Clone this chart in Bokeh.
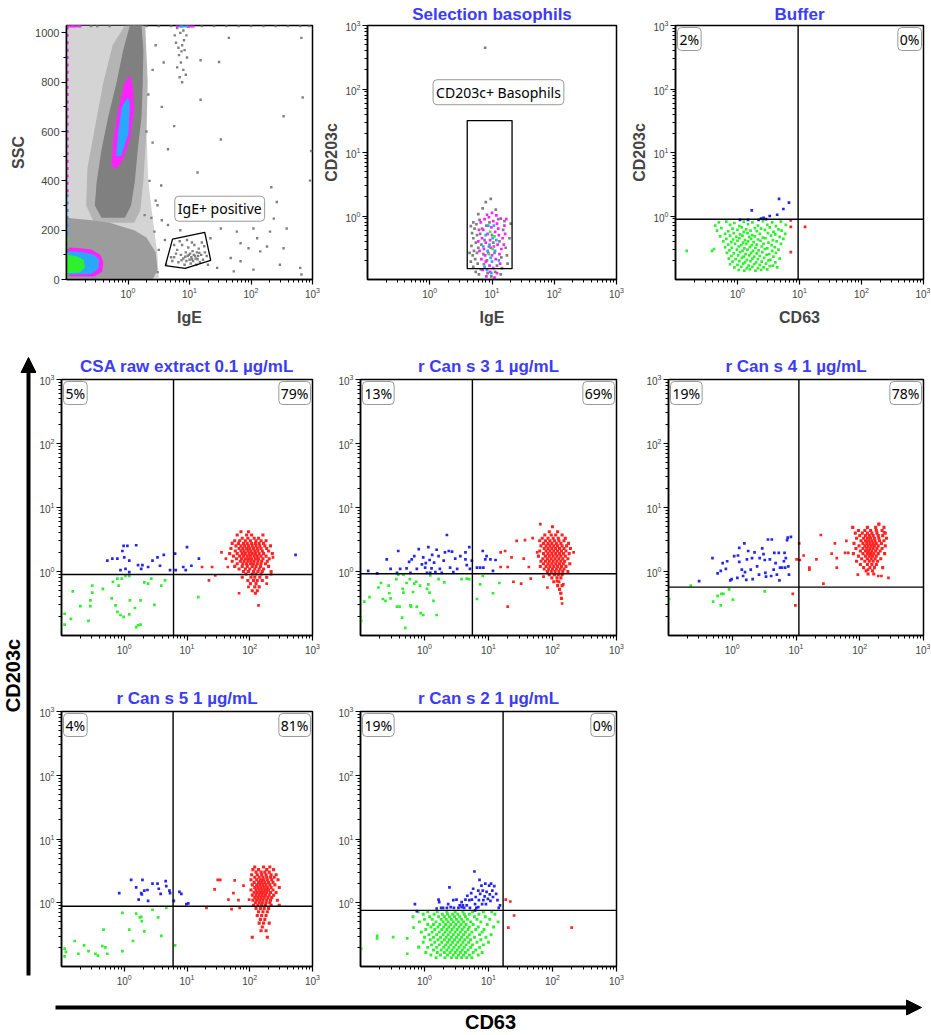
import math
from bokeh.plotting import figure
from bokeh.models import Range1d, Span, Label, Arrow, NormalHead, FixedTicker
from bokeh.layouts import row, column
from bokeh.core.properties import value
from bokeh.embed import file_html
from bokeh.resources import INLINE

# ---------------------------------------------------------------- colours
TITLE_C = "#3c3cf5"
GREEN = "#2ef02e"
BLUE = "#2626ee"
RED = "#ff2424"
MAGENTA = "#ff22ff"
CYAN = "#28a8ff"
GREY = "#808080"

# ---------------------------------------------------------------- texts
titles = ["Selection basophils", "Buffer", "CSA raw extract 0.1 \u00b5g/mL", "r Can s 3 1 \u00b5g/mL",
          "r Can s 4 1 \u00b5g/mL", "r Can s 5 1 \u00b5g/mL", "r Can s 2 1 \u00b5g/mL"]
quad_pct_left = {"buf": "2%", "csa": "5%", "s3": "13%", "s4": "19%", "s5": "4%", "s2": "19%"}
quad_pct_right = {"buf": "0%", "csa": "79%", "s3": "69%", "s4": "78%", "s5": "81%", "s2": "0%"}
# quadrant thresholds (CD63, CD203c)
quad_x = {"buf": 9.5, "csa": 6.1, "s3": 5.6, "s4": 11.1, "s5": 6.0, "s2": 16.9}
quad_y = {"buf": 0.89, "csa": 0.90, "s3": 0.92, "s4": 0.57, "s5": 0.88, "s2": 0.76}

# ---------------------------------------------------------------- panel 1 : SSC vs IgE
# values: log10(IgE), SSC
ssc_haze_lx = [-1.0, 0.50, 0.48, 0.40, 0.33, 0.30, 0.28, 0.25, -1.0]
ssc_haze_y = [0, 0, 100, 250, 400, 600, 800, 1030, 1030]
ssc_halo_lx = [-0.05, 0.28, 0.32, 0.30, 0.25, 0.20, 0.10, -0.55, -0.68, -0.66, -0.55, -0.40, -0.25]
ssc_halo_y = [1030, 1030, 800, 600, 400, 280, 230, 230, 300, 450, 600, 800, 950]
ssc_low_lx = [-1.0, 0.40, 0.48, 0.45, 0.30, 0.10, -0.30, -0.60, -1.0]
ssc_low_y = [0, 0, 40, 110, 170, 200, 230, 240, 250]
ssc_main_lx = [0.03, 0.22, 0.25, 0.24, 0.22, 0.16, 0.11, 0.05, -0.05, -0.43, -0.54, -0.51, -0.43, -0.32, -0.19, -0.08]
ssc_main_y = [1030, 1030, 930, 795, 660, 530, 395, 300, 250, 250, 300, 395, 528, 662, 795, 929]
ssc_core_mag_lx = [0.03, 0.08, 0.10, 0.03, -0.08, -0.19, -0.27, -0.24, -0.16, -0.06]
ssc_core_mag_y = [829, 782, 688, 568, 488, 448, 461, 568, 688, 795]
ssc_core_cyan_lx = [0.03, 0.01, -0.11, -0.19, -0.16, -0.10, 0.00]
ssc_core_cyan_y = [715, 595, 501, 501, 595, 702, 740]
ssc_blob_mag_lx = [-1.0, -0.55, -0.42, -0.40, -0.45, -0.60, -0.80, -1.0]
ssc_blob_mag_y = [12, 12, 30, 70, 100, 122, 128, 130]
ssc_blob_cyan_lx = [-1.0, -0.60, -0.48, -0.47, -0.55, -0.75, -1.0]
ssc_blob_cyan_y = [20, 22, 45, 80, 100, 112, 115]
ssc_blob_green_lx = [-1.0, -0.78, -0.70, -0.72, -0.85, -1.0]
ssc_blob_green_y = [25, 28, 50, 80, 95, 100]
ssc_edge_mag_y = [1020, 990, 960, 930, 900, 870, 840, 810, 780, 750, 720, 690, 660, 630, 600, 570, 540,
                  510, 480, 450, 420, 390, 360]
ssc_edge_cyan_y = [340, 310, 280, 250, 220, 190]
ssc_edge_green_y = [160, 130, 100, 70, 40, 15]
ssc_top_grey_lx = [-0.9, -0.8, -0.6, -0.5, -0.3, 0.1, 0.3, 0.5, 0.7, 1.2, 1.4, 1.6, 1.8, 2.0, 2.2, 2.4, 2.6, 2.8, 2.95]
ssc_top_mag_lx = [-0.98, -0.93, -0.88, -0.84, -0.78, 0.80, 0.87, 0.98, 1.02, 1.06]
ssc_top_cyan_lx = [0.85, 0.90, 0.95]
ssc_scatter = [(1.64, 980), (2.82, 980), (1.48, 882), (2.84, 738), (2.53, 662), (2.98, 521), (2.96, 401),
               (2.33, 374), (2.42, 314), (2.37, 247), (2.31, 194), (2.04, 207), (2.10, 167), (1.77, 194),
               (1.83, 147), (1.96, 127), (2.15, 114), (2.26, 134), (2.53, 127), (2.58, 207), (2.47, 60),
               (1.83, 74), (1.67, 87), (1.45, 47), (1.72, 33), (2.04, 40), (2.80, 47), (2.82, 20), (1.51, 207),
               (1.34, 167), (0.48, 301), (0.54, 381), (0.65, 528), (0.75, 622), (1.18, 729), (0.27, 261),
               (0.43, 194), (0.65, 221), (0.40, 555), (1.13, 434), (1.51, 568), (1.18, 889), (0.35, 400),
               (0.45, 320), (0.38, 250), (0.55, 240), (0.60, 160), (0.50, 120), (0.70, 90), (0.62, 60),
               (0.48, 30), (0.75, 140), (0.85, 200), (0.30, 600), (0.33, 750), (0.40, 850), (0.55, 700),
               (0.45, 950), (0.58, 880),
               (0.80, 1020), (0.85, 1000), (0.90, 1010), (0.95, 990), (0.78, 960), (0.88, 950), (0.92, 930),
               (0.83, 910), (0.96, 900), (0.86, 880), (0.80, 860), (0.90, 850), (0.94, 830), (0.84, 820),
               (0.88, 800), (0.98, 1025), (0.76, 990), (0.91, 970), (0.82, 940), (0.87, 925)]
ssc_gate_pts = [(0.75, 90), (0.80, 120), (0.82, 70), (0.86, 100), (0.88, 140), (0.90, 85), (0.92, 60), (0.94, 110),
                (0.95, 75), (0.97, 95), (0.98, 130), (1.00, 80), (1.01, 105), (1.02, 65), (1.03, 90), (1.05, 115),
                (1.06, 75), (1.07, 100), (1.08, 140), (1.10, 85), (1.11, 60), (1.12, 110), (1.14, 95),
                (1.15, 125), (1.17, 70), (1.19, 100), (1.20, 150), (1.22, 80), (1.25, 110), (1.28, 95),
                (0.84, 155), (0.96, 160), (1.04, 150), (0.99, 100), (1.04, 82), (0.93, 92), (1.09, 96),
                (0.87, 78), (1.13, 82), (1.16, 108), (0.78, 105), (0.72, 75), (1.30, 60), (1.24, 135)]
ige_gate_x = [5.3, 17.7, 22.1, 8.5, 4.05]
ige_gate_y = [164, 191, 78, 45, 56]

# ---------------------------------------------------------------- panel 2 : selection basophils (log10 values)
sel_grey = [(0.89, 2.65), (0.90, 0.22), (0.98, 0.27), (1.06, 0.10), (0.78, 0.03), (0.85, 0.12), (0.70, -0.10),
            (0.66, -0.16), (0.72, -0.20), (0.68, -0.27), (0.75, -0.13), (0.80, -0.06), (0.70, -0.35),
            (0.74, -0.42), (0.67, -0.47), (0.71, -0.55), (0.76, -0.30), (0.78, -0.50), (0.69, -0.62),
            (0.73, -0.68), (0.77, -0.75), (0.70, -0.80), (0.74, -0.88), (0.79, -0.92), (0.82, -0.84),
            (0.84, -0.20), (0.88, -0.38), (0.86, -0.60), (0.92, -0.70), (0.95, -0.48), (1.00, -0.30),
            (1.04, -0.58), (1.08, -0.78), (1.12, -0.40), (1.15, -0.65), (1.18, -0.22), (1.22, -0.50),
            (1.25, -0.75), (1.28, -0.35), (1.30, -0.12), (1.20, -0.08), (1.10, -0.05), (0.96, -0.10),
            (0.93, -0.90), (0.99, -0.95), (1.05, -0.88), (1.14, -0.92), (0.64, -0.58), (0.66, -0.72),
            (0.81, -0.28), (0.87, -0.76), (0.91, -0.15), (1.02, -0.42), (1.16, -0.82), (1.24, -0.62),
            (0.83, -0.45), (0.76, -0.58)]
sel_magenta = [(0.82, -0.10), (0.88, -0.05), (0.95, -0.02), (1.02, -0.08), (1.08, -0.12), (1.14, -0.04),
               (1.20, -0.15), (0.86, -0.22), (0.93, -0.28), (0.99, -0.18), (1.05, -0.25), (1.11, -0.30),
               (1.17, -0.35), (0.84, -0.35), (0.90, -0.42), (0.97, -0.38), (1.03, -0.48), (1.09, -0.45),
               (1.15, -0.52), (0.80, -0.55), (0.87, -0.52), (0.94, -0.58), (1.00, -0.62), (1.06, -0.68),
               (1.12, -0.60), (0.83, -0.68), (0.90, -0.72), (0.96, -0.78), (1.02, -0.82), (1.08, -0.90),
               (1.13, -0.75), (0.85, -0.85), (0.91, -0.95), (0.97, -0.88), (1.04, -0.97), (0.78, -0.40),
               (0.79, -0.22), (1.19, -0.45), (1.21, -0.28), (1.23, -0.05), (0.92, 0.02), (1.00, 0.05),
               (1.07, 0.01), (0.98, -0.50), (0.89, -0.62), (1.10, -0.20)]
sel_cyan = [(0.90, -0.30), (0.96, -0.45), (1.01, -0.35), (0.93, -0.55), (1.05, -0.55), (0.98, -0.66),
            (0.88, -0.80), (1.00, -0.72), (0.94, -0.15), (1.07, -0.38), (0.86, -0.48), (1.03, -0.15),
            (0.99, -0.90), (0.92, -0.85), (1.11, -0.70)]
sel_green = [(0.97, -0.25), (1.04, -0.32), (0.95, -0.60), (1.01, -0.52)]
baso_gate_x = [4.0, 21.0, 21.0, 4.0]
baso_gate_y = [0.148, 0.148, 31.8, 31.8]

# ---------------------------------------------------------------- panel 3 : buffer (log10 CD63, log10 CD203c)
buf_green = [(-0.82, -0.55), (-0.41, -0.55), (-0.38, -0.52),
    (-0.30, -0.10), (-0.18, -0.09), (-0.05, -0.11), (0.10, -0.09), (0.24, -0.10), (0.41, -0.08), (0.56, -0.10), (0.70, -0.09),
    (-0.36, -0.15), (-0.12, -0.14), (0.03, -0.16), (0.17, -0.13), (0.33, -0.15), (0.48, -0.14), (0.62, -0.16), (0.78, -0.14),
    (-0.26, -0.19), (-0.08, -0.20), (0.07, -0.18), (0.14, -0.21), (0.28, -0.19), (0.38, -0.20), (0.52, -0.18), (0.66, -0.21),
    (-0.33, -0.23), (-0.15, -0.24), (0.00, -0.22), (0.10, -0.25), (0.21, -0.23), (0.31, -0.24), (0.44, -0.22), (0.58, -0.25), (0.71, -0.23),
    (-0.20, -0.28), (-0.06, -0.27), (0.04, -0.29), (0.16, -0.27), (0.24, -0.30), (0.36, -0.28), (0.49, -0.27), (0.61, -0.29), (0.77, -0.28),
    (-0.28, -0.32), (-0.12, -0.31), (-0.02, -0.33), (0.08, -0.31), (0.19, -0.33), (0.28, -0.32), (0.41, -0.34), (0.54, -0.31), (0.68, -0.33),
    (-0.18, -0.36), (-0.07, -0.37), (0.03, -0.35), (0.12, -0.38), (0.22, -0.36), (0.33, -0.37), (0.45, -0.35), (0.57, -0.38), (0.74, -0.36),
    (-0.23, -0.40), (-0.10, -0.41), (0.00, -0.39), (0.09, -0.42), (0.17, -0.40), (0.26, -0.41), (0.37, -0.39), (0.50, -0.42), (0.63, -0.40),
    (-0.15, -0.45), (-0.04, -0.44), (0.06, -0.46), (0.14, -0.44), (0.23, -0.46), (0.31, -0.45), (0.42, -0.44), (0.55, -0.46), (0.70, -0.44),
    (-0.20, -0.49), (-0.09, -0.50), (0.02, -0.48), (0.11, -0.51), (0.20, -0.49), (0.29, -0.50), (0.39, -0.48), (0.48, -0.51), (0.60, -0.49),
    (-0.13, -0.54), (-0.01, -0.53), (0.08, -0.55), (0.16, -0.53), (0.25, -0.55), (0.34, -0.54), (0.44, -0.52), (0.56, -0.55), (0.66, -0.53),
    (-0.17, -0.58), (-0.06, -0.59), (0.04, -0.57), (0.13, -0.60), (0.22, -0.58), (0.31, -0.59), (0.40, -0.57), (0.51, -0.60), (0.62, -0.58),
    (-0.10, -0.63), (0.01, -0.62), (0.10, -0.64), (0.19, -0.62), (0.27, -0.64), (0.36, -0.63), (0.47, -0.61), (0.58, -0.64),
    (-0.14, -0.67), (-0.03, -0.68), (0.07, -0.66), (0.15, -0.69), (0.24, -0.67), (0.33, -0.68), (0.43, -0.66), (0.53, -0.69), (0.68, -0.67),
    (-0.08, -0.72), (0.03, -0.71), (0.12, -0.73), (0.21, -0.71), (0.30, -0.73), (0.39, -0.72), (0.50, -0.70), (0.61, -0.73),
    (-0.12, -0.76), (0.00, -0.77), (0.09, -0.75), (0.18, -0.78), (0.27, -0.76), (0.36, -0.77), (0.46, -0.75), (0.57, -0.78),
    (-0.05, -0.81), (0.06, -0.80), (0.15, -0.82), (0.24, -0.80), (0.33, -0.82), (0.42, -0.81), (0.52, -0.79), (0.64, -0.81),
    (0.02, -0.85), (0.11, -0.86), (0.20, -0.84), (0.29, -0.86), (0.38, -0.85), (0.48, -0.84)]
buf_blue = [(0.23, 0.09), (0.67, 0.27), (0.83, 0.21), (0.74, 0.11), (0.64, 0.02), (0.52, 0.00), (0.42, -0.03),
            (0.34, -0.06), (0.38, -0.04), (0.04, -0.06), (0.17, -0.06), (0.46, -0.05)]
buf_red = [(0.86, -0.07), (0.86, -0.17), (1.09, -0.17), (0.86, -0.57)]

# ---------------------------------------------------------------- panel 4 : CSA raw extract
csa_blue = [(0.05, 0.40), (-0.03, 0.32), (-0.27, 0.17), (-0.11, 0.20), (0.00, 0.22), (0.08, 0.17), (-0.06, 0.02),
            (0.02, 0.04), (0.08, -0.01), (0.22, 0.10), (0.29, 0.10), (0.27, 0.04), (0.38, 0.07), (0.45, 0.17),
            (0.53, 0.22), (0.57, 0.09), (0.63, 0.26), (0.19, 0.41), (0.73, 0.02), (0.81, 0.28), (0.82, 0.02),
            (0.94, 0.07), (0.98, 0.02), (1.00, 0.38), (1.07, 0.09), (1.19, 0.20), (2.73, 0.26), (-0.01, 0.40),
            (-0.19, 0.20)]
csa_green = [(-0.95, -0.66), (-0.95, -0.83), (-0.85, -0.74), (-0.82, -0.31), (-0.70, -0.54), (-0.57, -0.77),
             (-0.54, -0.54), (-0.54, -0.45), (-0.51, -0.33), (-0.51, -0.22), (-0.34, -0.27), (-0.18, -0.16),
             (-0.11, -0.11), (-0.09, -0.22), (-0.20, -0.42), (-0.14, -0.53), (-0.11, -0.63), (-0.06, -0.68),
             (-0.01, -0.71), (0.08, -0.67), (0.09, -0.45), (0.17, -0.57), (0.22, -0.84), (0.19, -0.87),
             (0.26, -0.83), (0.26, -0.45), (0.32, -0.17), (0.38, -0.19), (0.43, -0.11), (0.59, -0.22),
             (0.65, -0.14), (0.48, -0.52), (0.02, -0.07), (0.08, -0.07), (-0.04, -0.11), (1.18, -0.40)]
csa_red_sparse = [(1.24, 0.07), (1.35, -0.14), (1.40, 0.07), (1.45, -0.06), (1.55, 0.30), (1.65, 0.07),
                  (1.62, 0.20), (1.83, -0.34), (2.14, -0.53), (2.37, 0.22), (2.34, -0.04), (2.27, -0.19),
                  (1.98, -0.24)]
csa_red_rows = [(0.62, [1.86, 1.98]), (0.57, [1.80, 1.95, 2.03, 2.21]), (0.52, [1.88, 1.97, 2.07, 2.14]),
                (0.48, [1.76, 1.84, 1.93, 2.01, 2.10, 2.18, 2.26]),
                (0.44, [1.72, 1.82, 1.90, 1.96, 2.03, 2.09, 2.15, 2.22]),
                (0.40, [1.78, 1.86, 1.92, 1.98, 2.04, 2.10, 2.16, 2.24, 2.33]),
                (0.36, [1.70, 1.83, 1.89, 1.95, 2.00, 2.06, 2.12, 2.18, 2.27]),
                (0.32, [1.77, 1.86, 1.91, 1.97, 2.02, 2.08, 2.13, 2.20, 2.30]),
                (0.28, [1.68, 1.80, 1.88, 1.93, 1.99, 2.04, 2.09, 2.15, 2.22, 2.36]),
                (0.24, [1.74, 1.84, 1.90, 1.96, 2.01, 2.07, 2.12, 2.18, 2.26]),
                (0.20, [1.79, 1.87, 1.93, 1.98, 2.03, 2.09, 2.14, 2.21, 2.31]),
                (0.16, [1.72, 1.85, 1.91, 1.97, 2.02, 2.07, 2.13, 2.19, 2.28]),
                (0.12, [1.80, 1.89, 1.95, 2.01, 2.06, 2.12, 2.18, 2.25]),
                (0.08, [1.76, 1.88, 1.96, 2.04, 2.10, 2.17, 2.30]),
                (0.04, [1.83, 1.93, 2.00, 2.08, 2.15, 2.22]), (0.00, [1.90, 1.98, 2.06, 2.13, 2.20, 2.34]),
                (-0.04, [1.94, 2.04, 2.10, 2.18]), (-0.09, [1.88, 2.02, 2.08, 2.16, 2.27]),
                (-0.14, [1.97, 2.06, 2.12, 2.20]), (-0.19, [2.01, 2.10]), (-0.24, [2.08, 2.15]),
                (-0.30, [2.04, 2.12]), (-0.34, [2.09])]

# ---------------------------------------------------------------- panel 5 : r Can s 3
s3_blue = [(-0.88, 0.01), (-0.74, -0.03), (-0.59, 0.19), (-0.53, 0.04), (-0.41, 0.32), (-0.38, 0.04), (-0.28, 0.05),
           (-0.24, 0.15), (-0.20, 0.19), (-0.22, -0.02), (-0.09, 0.35), (-0.12, 0.04), (-0.04, 0.11), (-0.02, 0.22),
           (0.01, 0.06), (0.04, -0.02), (0.06, 0.38), (0.08, 0.18), (0.11, 0.05), (0.15, 0.14), (0.19, 0.34),
           (0.22, 0.24), (0.24, 0.04), (0.30, 0.17), (0.35, 0.57), (0.38, 0.32), (0.40, 0.06), (0.43, 0.31),
           (0.48, 0.20), (0.51, 0.04), (0.64, 0.19), (0.66, 0.10), (0.70, 0.38), (0.74, 0.17), (0.64, 0.30),
           (0.87, 0.06), (0.91, 0.32), (0.95, 0.19), (0.97, 0.24), (1.03, 0.19), (1.07, 0.01), (1.11, 0.18),
           (0.27, -0.02), (0.32, 0.30), (0.56, 0.24), (-0.16, 0.24), (-0.43, -0.02), (0.09, -0.02), (0.17, -0.01),
           (0.45, -0.01), (0.71, 0.04), (0.82, 0.06), (0.92, 0.06), (0.12, 0.26), (0.02, 0.13)]
s3_green = [(-1.0, -0.72), (-0.99, -0.77), (-0.94, -0.47), (-0.86, -0.40), (-0.72, -0.25), (-0.65, -0.43),
            (-0.61, -0.46), (-0.56, -0.22), (-0.55, -0.34), (-0.53, -0.42), (-0.44, -0.12), (-0.43, -0.55),
            (-0.39, -0.55), (-0.35, -0.72), (-0.34, -0.27), (-0.33, -0.33), (-0.30, -0.88), (-0.23, -0.12),
            (-0.22, -0.53), (-0.21, -0.55), (-0.18, -0.32), (-0.16, -0.19), (-0.13, -0.16), (-0.12, -0.55),
            (-0.06, -0.65), (-0.02, -0.68), (0.04, -0.27), (0.06, -0.20), (0.08, -0.33), (0.09, -0.06),
            (0.14, -0.46), (0.19, -0.68), (0.22, -0.12), (0.31, -0.17), (0.58, -0.12), (0.66, -0.11),
            (0.70, -0.12), (0.82, -0.43), (0.87, -0.20), (0.91, -0.07), (1.07, -0.34), (1.17, -0.18),
            (-0.68, -0.18), (-0.28, -0.18), (-0.07, -0.22), (-0.41, -0.05), (-0.33, -0.05), (-1.0, -0.61)]
s3_red_sparse = [(1.19, 0.30), (1.19, 0.07), (1.26, 0.32), (1.30, 0.07), (1.36, 0.22), (1.44, 0.48),
                 (1.30, -0.55), (1.39, -0.16), (1.51, -0.19), (1.55, 0.20), (1.57, 0.49), (1.63, 0.07),
                 (1.66, -0.11), (1.69, 0.52), (1.76, 0.30), (1.81, 0.74), (1.92, -0.25), (2.13, -0.34),
                 (2.15, -0.50), (2.17, -0.20), (2.33, 0.30), (1.86, -0.08), (2.07, -0.15)]
s3_red_rows = [(0.70, [2.00]), (0.62, [1.95, 2.08]), (0.57, [1.88, 1.98, 2.05, 2.15]),
               (0.52, [1.84, 1.93, 2.01, 2.09, 2.20]), (0.48, [1.80, 1.89, 1.96, 2.03, 2.10, 2.18]),
               (0.44, [1.86, 1.93, 1.99, 2.06, 2.13, 2.25]), (0.40, [1.82, 1.90, 1.96, 2.02, 2.08, 2.15, 2.22]),
               (0.36, [1.87, 1.93, 1.99, 2.05, 2.11, 2.18, 2.28]), (0.32, [1.80, 1.90, 1.96, 2.02, 2.08, 2.14, 2.21]),
               (0.28, [1.86, 1.93, 1.99, 2.05, 2.11, 2.17, 2.26]), (0.24, [1.78, 1.89, 1.95, 2.01, 2.07, 2.13, 2.20]),
               (0.20, [1.85, 1.92, 1.98, 2.04, 2.10, 2.16, 2.24]), (0.16, [1.82, 1.89, 1.95, 2.01, 2.07, 2.13, 2.19]),
               (0.12, [1.86, 1.93, 1.99, 2.05, 2.11, 2.17, 2.27]), (0.08, [1.81, 1.90, 1.96, 2.02, 2.08, 2.14, 2.21]),
               (0.04, [1.87, 1.94, 2.00, 2.06, 2.12, 2.18]), (0.00, [1.92, 1.98, 2.04, 2.10, 2.16, 2.24]),
               (-0.05, [1.95, 2.03, 2.09, 2.15]), (-0.10, [1.99, 2.07, 2.13]), (-0.16, [2.02, 2.10]),
               (-0.22, [2.08, 2.15]), (-0.28, [2.11]), (-0.34, [2.13]), (-0.42, [2.14])]

# ---------------------------------------------------------------- panel 6 : r Can s 4
s4_blue = [(-0.52, -0.15), (-0.31, 0.21), (-0.23, -0.03), (-0.18, 0.01), (-0.15, 0.13), (-0.10, 0.04), (-0.08, 0.16),
           (-0.03, -0.14), (-0.01, -0.12), (0.09, 0.25), (0.11, 0.15), (0.15, 0.03), (0.17, -0.07), (0.19, 0.44),
           (0.20, -0.01), (0.22, -0.13), (0.25, 0.32), (0.29, 0.03), (0.31, 0.21), (0.32, -0.12), (0.35, 0.30),
           (0.39, 0.08), (0.43, 0.21), (0.47, 0.36), (0.49, 0.27), (0.52, -0.02), (0.53, -0.08), (0.56, 0.50),
           (0.59, 0.19), (0.62, 0.50), (0.65, 0.03), (0.66, 0.29), (0.73, 0.29), (0.74, -0.14), (0.75, 0.06),
           (0.78, 0.06), (0.81, 0.16), (0.82, 0.29), (0.83, 0.06), (0.84, 0.21), (0.86, 0.49), (0.87, 0.53),
           (0.88, 0.08), (0.89, -0.05), (0.92, 0.54), (0.11, 0.37), (0.03, 0.24), (0.42, -0.05), (0.61, -0.07),
           (0.68, 0.13), (0.23, 0.19), (0.51, 0.18), (0.70, -0.05), (0.08, -0.10)]
s4_green = [(-0.99, -0.43), (-0.65, -0.22), (-0.30, -0.47), (-0.23, -0.38), (-0.17, -0.35), (-0.14, -0.35),
            (-0.18, -0.53), (-0.05, -0.28), (0.01, -0.44), (0.51, -0.31)]
s4_red_sparse = [(0.95, -0.35), (0.99, -0.53), (1.01, 0.19), (1.05, 0.44), (1.06, 0.18), (1.12, 0.25),
                 (1.21, 0.06), (1.21, 0.03), (1.32, 0.19), (1.39, 0.57), (1.43, -0.19), (1.56, 0.28),
                 (1.61, 0.44), (1.64, 0.21), (1.64, 0.06), (1.77, 0.29), (1.79, 0.48), (1.82, 0.29),
                 (1.97, -0.05), (2.13, 0.03), (2.29, -0.07), (2.34, -0.07), (2.45, -0.10), (2.38, 0.61),
                 (2.30, 0.74), (1.89, 0.69)]
s4_red_rows = [(0.74, [2.30]), (0.69, [1.89, 2.12, 2.25, 2.38]), (0.64, [1.98, 2.08, 2.17, 2.26, 2.35]),
               (0.60, [1.93, 2.04, 2.12, 2.19, 2.27, 2.40]), (0.56, [2.00, 2.09, 2.15, 2.21, 2.29, 2.36]),
               (0.52, [1.95, 2.06, 2.12, 2.17, 2.23, 2.30, 2.42]), (0.48, [2.02, 2.09, 2.14, 2.19, 2.24, 2.31, 2.38]),
               (0.44, [1.91, 2.05, 2.11, 2.16, 2.21, 2.26, 2.34]), (0.40, [1.99, 2.08, 2.13, 2.18, 2.23, 2.29, 2.40]),
               (0.36, [1.94, 2.05, 2.11, 2.16, 2.21, 2.27, 2.35]), (0.32, [2.01, 2.09, 2.14, 2.19, 2.25, 2.32]),
               (0.28, [1.90, 2.05, 2.12, 2.17, 2.22, 2.29, 2.39]), (0.24, [1.98, 2.09, 2.15, 2.20, 2.26]),
               (0.20, [2.03, 2.12, 2.18, 2.24, 2.33]), (0.16, [1.95, 2.08, 2.15, 2.21, 2.28]),
               (0.11, [2.01, 2.12, 2.19, 2.26]), (0.06, [2.06, 2.16, 2.23, 2.36]), (0.01, [2.10, 2.20]),
               (-0.04, [2.13, 2.22])]

# ---------------------------------------------------------------- panel 7 : r Can s 5
s5_blue = [(0.11, 0.36), (0.29, 0.36), (-0.08, 0.15), (0.19, 0.24), (0.27, 0.15), (0.28, 0.13), (0.23, 0.05),
           (0.38, 0.03), (0.37, 0.20), (0.45, 0.30), (0.53, 0.30), (0.58, 0.14), (0.66, 0.34), (0.67, 0.26),
           (0.72, 0.19), (0.73, 0.15), (0.88, 0.17), (0.91, 0.14), (0.79, 0.03), (0.99, -0.02), (1.02, -0.01),
           (0.55, 0.22), (0.32, 0.19)]
s5_green = [(-0.95, -0.72), (-0.95, -0.84), (-0.93, -0.77), (-0.79, -0.60), (-0.73, -0.80), (-0.64, -0.67),
            (-0.57, -0.76), (-0.46, -0.80), (-0.42, -0.83), (-0.35, -0.68), (-0.33, -0.42), (-0.30, -0.70),
            (-0.27, -0.80), (-0.03, -0.76), (-0.03, -0.16), (0.08, -0.42), (0.14, -0.60), (0.19, -0.17),
            (0.25, -0.23), (0.27, -0.22), (0.28, -0.29), (0.32, -0.45), (0.45, -0.11), (0.54, -0.23),
            (0.59, -0.52), (0.67, -0.08), (0.81, -0.67)]
s5_red_sparse = [(1.31, -0.08), (1.44, 0.21), (1.49, 0.36), (1.53, 0.36), (1.66, 0.05), (1.71, -0.10),
                 (1.74, 0.15), (1.82, 0.04), (1.84, -0.08), (1.99, 0.05), (1.76, 0.35), (1.90, 0.27)]
s5_red_rows = [(0.56, [2.08, 2.22, 2.32]), (0.52, [2.05, 2.14, 2.27, 2.38]), (0.48, [2.10, 2.18, 2.24, 2.31]),
               (0.44, [2.03, 2.12, 2.19, 2.26, 2.34, 2.42]), (0.40, [2.08, 2.15, 2.21, 2.27, 2.33, 2.39]),
               (0.36, [2.02, 2.11, 2.17, 2.22, 2.28, 2.35, 2.45]), (0.32, [2.07, 2.14, 2.19, 2.24, 2.30, 2.37]),
               (0.28, [2.04, 2.11, 2.16, 2.21, 2.26, 2.32, 2.40]), (0.24, [2.08, 2.13, 2.18, 2.23, 2.28, 2.34, 2.47]),
               (0.20, [2.02, 2.10, 2.15, 2.20, 2.25, 2.30, 2.37]), (0.16, [2.07, 2.12, 2.17, 2.22, 2.27, 2.33, 2.42]),
               (0.12, [2.04, 2.10, 2.15, 2.20, 2.25, 2.31, 2.38]), (0.08, [2.08, 2.13, 2.18, 2.23, 2.29, 2.35]),
               (0.04, [2.05, 2.11, 2.16, 2.21, 2.27, 2.33, 2.44]), (0.00, [2.09, 2.15, 2.20, 2.26, 2.32]),
               (-0.04, [2.06, 2.13, 2.19, 2.25, 2.34, 2.47]), (-0.09, [2.10, 2.17, 2.23, 2.30]),
               (-0.14, [2.14, 2.21, 2.28]), (-0.20, [2.12, 2.19, 2.26]), (-0.26, [2.17, 2.24]),
               (-0.32, [2.15, 2.22, 2.31]), (-0.38, [2.20]), (-0.44, [2.18, 2.26]), (-0.54, [2.04, 2.28])]

# ---------------------------------------------------------------- panel 8 : r Can s 2
s2_blue = [(-0.15, -0.02), (-0.12, -0.13), (0.22, 0.05), (0.23, 0.01), (0.26, -0.08), (0.29, -0.08), (0.35, -0.08),
           (0.39, 0.24), (0.41, -0.07), (0.46, -0.08), (0.50, 0.05), (0.53, -0.08), (0.55, -0.04), (0.58, -0.07),
           (0.60, -0.04), (0.62, -0.08), (0.64, 0.05), (0.66, -0.04), (0.70, 0.04), (0.71, -0.08), (0.73, 0.15),
           (0.74, 0.05), (0.76, 0.22), (0.78, 0.49), (0.79, -0.02), (0.80, 0.09), (0.81, -0.08), (0.84, 0.19),
           (0.85, 0.04), (0.86, 0.36), (0.87, 0.14), (0.89, 0.27), (0.90, -0.02), (0.91, 0.19), (0.92, 0.04),
           (0.94, 0.10), (0.95, 0.30), (0.96, -0.02), (0.97, 0.17), (0.99, 0.06), (1.01, 0.27), (1.02, 0.13),
           (1.03, 0.03), (1.04, 0.30), (1.06, 0.19), (1.07, 0.09), (1.09, 0.26), (1.12, 0.14), (1.14, 0.04),
           (1.16, -0.08), (1.18, -0.04), (0.37, -0.02), (0.58, 0.01), (0.67, 0.11), (0.79, -0.12), (0.19, -0.09),
           (0.45, 0.04), (0.84, -0.07)]
s2_green_sparse = [(-0.99, -0.72), (-0.74, -0.56), (-0.74, -0.52), (-0.49, -0.54), (-0.27, -0.56),
                   (-0.27, -0.80), (-0.17, -0.39), (-0.09, -0.69)]
s2_green_rows = [(-0.14, [-0.10, 0.05, 0.20, 0.35, 0.48, 0.60, 0.75, 0.92, 1.05]),
                 (-0.18, [-0.02, 0.15, 0.28, 0.36, 0.44, 0.52, 0.62, 0.70, 0.85, 1.10]),
                 (-0.22, [-0.18, 0.08, 0.22, 0.31, 0.39, 0.47, 0.55, 0.64, 0.78, 0.95]),
                 (-0.26, [0.00, 0.12, 0.26, 0.34, 0.42, 0.50, 0.58, 0.67, 0.82, 1.02]),
                 (-0.30, [-0.08, 0.18, 0.29, 0.37, 0.45, 0.53, 0.61, 0.72, 0.88, 1.15]),
                 (-0.34, [0.05, 0.14, 0.24, 0.33, 0.41, 0.49, 0.57, 0.65, 0.76, 0.98]),
                 (-0.38, [0.10, 0.21, 0.30, 0.38, 0.46, 0.54, 0.62, 0.70, 0.84, 1.08]),
                 (-0.42, [0.02, 0.16, 0.27, 0.35, 0.43, 0.51, 0.59, 0.68, 0.80, 0.93]),
                 (-0.46, [-0.05, 0.12, 0.23, 0.32, 0.40, 0.48, 0.56, 0.64, 0.74, 0.90]),
                 (-0.50, [0.07, 0.19, 0.29, 0.37, 0.45, 0.53, 0.61, 0.70, 0.86, 1.04]),
                 (-0.54, [0.00, 0.14, 0.25, 0.34, 0.42, 0.50, 0.58, 0.67, 0.78, 0.96]),
                 (-0.58, [0.09, 0.21, 0.31, 0.39, 0.47, 0.55, 0.63, 0.72, 0.88]),
                 (-0.62, [-0.02, 0.16, 0.27, 0.36, 0.44, 0.52, 0.60, 0.69, 0.82, 1.00]),
                 (-0.66, [0.11, 0.23, 0.33, 0.41, 0.49, 0.57, 0.65, 0.75, 0.92]),
                 (-0.70, [-0.09, 0.05, 0.19, 0.30, 0.38, 0.46, 0.54, 0.62, 0.72, 0.86]),
                 (-0.74, [0.14, 0.26, 0.35, 0.43, 0.51, 0.59, 0.68, 0.80]),
                 (-0.78, [0.02, 0.20, 0.31, 0.40, 0.48, 0.56, 0.64, 0.76, 0.90]),
                 (-0.82, [0.10, 0.25, 0.36, 0.45, 0.53, 0.61, 0.70, 0.84]),
                 (-0.86, [0.18, 0.32, 0.42, 0.50, 0.58, 0.66, 0.74])]
s2_red = [(1.27, 0.05), (1.34, 0.02), (1.40, -0.20), (1.31, -0.39), (2.30, -0.39)]

# ---------------------------------------------------------------- helpers
MINOR = [m * 10.0 ** e for e in (-1, 0, 1, 2) for m in range(2, 10)]
MAJOR = [1, 10, 100, 1000]


def expand(rows):
    return [(lx, ly) for ly, lxs in rows for lx in lxs]


def add_pts(p, pts, color, size=2.7):
    p.scatter([10 ** a for a, b in pts], [10 ** b for a, b in pts], marker="square", size=size,
              fill_color=color, line_color=None)


def style_axis(ax, standoff):
    ax.axis_line_color = "black"
    ax.axis_line_width = 1.5
    ax.major_tick_in = 0
    ax.major_tick_out = 5
    ax.minor_tick_in = 0
    ax.minor_tick_out = 3
    ax.major_tick_line_width = 1.2
    ax.minor_tick_line_width = 1
    ax.major_label_text_font = "Liberation Sans"
    ax.major_label_text_font_size = "10px"
    ax.major_label_standoff = 2
    ax.axis_label_text_font = "Liberation Sans"
    ax.axis_label_text_font_style = "bold"
    ax.axis_label_text_font_size = "16px"
    ax.axis_label_standoff = standoff


def panel(width, height, bl, br, bt, bb, title=None, xlabel=None, ylabel=None, linear_y=False,
          title_standoff=4, ylabel_standoff=5):
    p = figure(width=width, height=height, x_axis_type="log", y_axis_type="linear" if linear_y else "log",
               x_range=Range1d(0.1, 1000), y_range=Range1d(0, 1030) if linear_y else Range1d(0.1, 1000),
               min_border_left=bl, min_border_right=br, min_border_top=bt, min_border_bottom=bb,
               output_backend="svg", toolbar_location=None)
    p.grid.visible = False
    p.outline_line_color = "black"
    p.outline_line_width = 1.5
    p.xaxis.ticker = FixedTicker(ticks=MAJOR, minor_ticks=MINOR)
    if linear_y:
        p.yaxis.ticker = FixedTicker(ticks=[0, 200, 400, 600, 800, 1000], minor_ticks=[100, 300, 500, 700, 900])
    else:
        p.yaxis.ticker = FixedTicker(ticks=MAJOR, minor_ticks=MINOR)
    style_axis(p.xaxis[0], 8)
    style_axis(p.yaxis[0], ylabel_standoff)
    if linear_y:
        p.yaxis.major_label_text_font_size = "11px"
    if xlabel:
        p.xaxis.axis_label = xlabel
    if ylabel:
        p.yaxis.axis_label = ylabel
    if title:
        p.title.text = title
        p.title.align = "center"
        p.title.text_color = TITLE_C
        p.title.text_font = "Liberation Sans"
        p.title.text_font_style = "bold"
        p.title.text_font_size = "17px"
        p.title.standoff = title_standoff
    return p


def pct(p, text, right):
    p.add_layout(Label(x=1000 if right else 0.1, y=1000, x_offset=-2 if right else 2, y_offset=-2,
                       text=text, text_align="right" if right else "left", text_baseline="top",
                       text_font="Noto Sans", text_font_size="14px", text_color="black",
                       background_fill_color="white", border_line_color="#9a9a9a", border_line_width=1,
                       border_radius=4, padding=2))


def quadrants(p, key):
    p.add_layout(Span(location=quad_x[key], dimension="height", line_color="black", line_width=1.4))
    p.add_layout(Span(location=quad_y[key], dimension="width", line_color="black", line_width=1.4))
    pct(p, quad_pct_left[key], False)
    pct(p, quad_pct_right[key], True)


def gate_label(p, x, y, text):
    p.add_layout(Label(x=x, y=y, text=text, text_align="center", text_baseline="middle",
                       text_font="Noto Sans", text_font_size="14px", text_color="black",
                       background_fill_color="white", border_line_color="#9a9a9a", border_line_width=1,
                       border_radius=4, padding=3))


# ---------------------------------------------------------------- row 1 (page y 0 - 345)
H1 = 345
f1 = panel(320, H1, 66, 8, 25, H1 - 25 - 257, xlabel="IgE", ylabel="SSC", linear_y=True)
for lx, yy, col in [(ssc_haze_lx, ssc_haze_y, "#d4d4d4"), (ssc_halo_lx, ssc_halo_y, "#b4b4b4"),
                    (ssc_low_lx, ssc_low_y, "#9c9c9c"),
                    (ssc_main_lx, ssc_main_y, GREY), (ssc_core_mag_lx, ssc_core_mag_y, MAGENTA),
                    (ssc_core_cyan_lx, ssc_core_cyan_y, CYAN), (ssc_blob_mag_lx, ssc_blob_mag_y, MAGENTA),
                    (ssc_blob_cyan_lx, ssc_blob_cyan_y, CYAN), (ssc_blob_green_lx, ssc_blob_green_y, GREEN)]:
    f1.patch([10 ** v for v in lx], yy, fill_color=col, line_color=None)
f1.scatter([10 ** a for a, b in ssc_scatter + ssc_gate_pts], [b for a, b in ssc_scatter + ssc_gate_pts],
           marker="square", size=2.4, fill_color=GREY, line_color=None)
f1.scatter([10 ** -0.99] * len(ssc_edge_mag_y), ssc_edge_mag_y, marker="square", size=3, fill_color=MAGENTA, line_color=None)
f1.scatter([10 ** -0.99] * len(ssc_edge_cyan_y), ssc_edge_cyan_y, marker="square", size=3, fill_color=CYAN, line_color=None)
f1.scatter([10 ** -0.99] * len(ssc_edge_green_y), ssc_edge_green_y, marker="square", size=3, fill_color=GREEN, line_color=None)
f1.scatter([10 ** v for v in ssc_top_grey_lx], [1028] * len(ssc_top_grey_lx), marker="square", size=2.6, fill_color=GREY, line_color=None)
f1.scatter([10 ** v for v in ssc_top_mag_lx], [1028] * len(ssc_top_mag_lx), marker="square", size=3, fill_color=MAGENTA, line_color=None)
f1.scatter([10 ** v for v in ssc_top_cyan_lx], [1028] * len(ssc_top_cyan_lx), marker="square", size=3, fill_color=CYAN, line_color=None)
f1.patch(ige_gate_x, ige_gate_y, fill_color=None, line_color="black", line_width=1.3)
gate_label(f1, 31, 287, "IgE+ positive")

f2 = panel(308, H1, 42, 12, 25, H1 - 25 - 257, title=titles[0], xlabel="IgE", ylabel="CD203c", ylabel_standoff=2)
add_pts(f2, sel_grey, GREY)
add_pts(f2, sel_magenta, MAGENTA)
add_pts(f2, sel_cyan, CYAN)
add_pts(f2, sel_green, GREEN)
f2.patch(baso_gate_x, baso_gate_y, fill_color=None, line_color="black", line_width=1.3)
gate_label(f2, 12.7, 89, "CD203c+ Basophils")

f3 = panel(302, H1, 40, 7, 24, H1 - 24 - 255, title=titles[1], xlabel="CD63", ylabel="CD203c", ylabel_standoff=2)
add_pts(f3, buf_green, GREEN)
add_pts(f3, buf_blue, BLUE)
add_pts(f3, buf_red, RED)
quadrants(f3, "buf")

# ---------------------------------------------------------------- rows 2 and 3 (page y 345 - 990)
H2, H3 = 332, 313
LA_W = 36
f4 = panel(320 - LA_W, H2, 57 - LA_W, 8, 34, H2 - 34 - 256, title=titles[2], title_standoff=8)
add_pts(f4, csa_green, GREEN)
add_pts(f4, csa_blue, BLUE)
add_pts(f4, csa_red_sparse, RED)
add_pts(f4, expand(csa_red_rows), RED, 3.1)
quadrants(f4, "csa")

f5 = panel(308, H2, 40, 12, 34, H2 - 34 - 256, title=titles[3], title_standoff=8)
add_pts(f5, s3_green, GREEN)
add_pts(f5, s3_blue, BLUE)
add_pts(f5, s3_red_sparse, RED)
add_pts(f5, expand(s3_red_rows), RED, 3.1)
quadrants(f5, "s3")

f6 = panel(302, H2, 40, 7, 34, H2 - 34 - 256, title=titles[4], title_standoff=8)
add_pts(f6, s4_green, GREEN)
add_pts(f6, s4_blue, BLUE)
add_pts(f6, s4_red_sparse, RED)
add_pts(f6, expand(s4_red_rows), RED, 3.1)
quadrants(f6, "s4")

f7 = panel(320 - LA_W, H3, 57 - LA_W, 8, 34, H3 - 34 - 255, title=titles[5], title_standoff=8)
add_pts(f7, s5_green, GREEN)
add_pts(f7, s5_blue, BLUE)
add_pts(f7, s5_red_sparse, RED)
add_pts(f7, expand(s5_red_rows), RED, 3.1)
quadrants(f7, "s5")

f8 = panel(308, H3, 40, 12, 34, H3 - 34 - 255, title=titles[6], title_standoff=8)
add_pts(f8, s2_green_sparse, GREEN)
add_pts(f8, expand(s2_green_rows), GREEN, 2.9)
add_pts(f8, s2_blue, BLUE)
add_pts(f8, s2_red, RED)
quadrants(f8, "s2")


# ---------------------------------------------------------------- big arrows
def blank(w, h):
    p = figure(width=w, height=h, x_range=Range1d(0, w), y_range=Range1d(0, h), output_backend="svg",
               toolbar_location=None, x_axis_location=None, y_axis_location=None,
               min_border=0, outline_line_color=None)
    p.grid.visible = False
    return p


LA_H = H2 + H3
la = blank(LA_W, LA_H)
la.add_layout(Arrow(x_start=28, y_start=15, x_end=28, y_end=LA_H - 12, line_width=4, line_color="black",
                    end=NormalHead(size=15, fill_color="black", line_color="black")))
la.text(x=[12], y=[LA_H - 330], text=["CD203c"], angle=math.pi / 2, text_align="center",
        text_baseline="middle", text_font=value("Liberation Sans"), text_font_style="bold",
        text_font_size="20px", text_color="black")

BA_W, BA_H = 930, 44
ba = blank(BA_W, BA_H)
ba.add_layout(Arrow(x_start=55, y_start=BA_H - 17, x_end=921, y_end=BA_H - 17, line_width=4, line_color="black",
                    end=NormalHead(size=15, fill_color="black", line_color="black")))
ba.text(x=[490], y=[13], text=["CD63"], text_align="center", text_baseline="middle",
        text_font=value("Liberation Sans"), text_font_style="bold", text_font_size="20px", text_color="black")

layout = column(row(f1, f2, f3),
                row(la, column(row(f4, f5, f6), row(f7, f8))),
                ba)

open("out.html", "w").write(file_html(layout, INLINE, "Basophil activation"))
